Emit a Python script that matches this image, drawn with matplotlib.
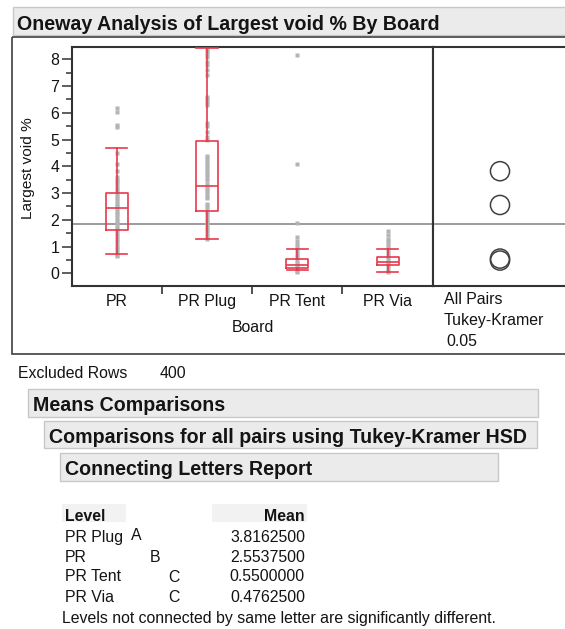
import numpy as np
import matplotlib
matplotlib.use("Agg")
import matplotlib.pyplot as plt
from matplotlib.patches import Rectangle

plt.rcParams["font.family"] = ["Liberation Sans", "DejaVu Sans"]

W, H = 565, 629

# ---------- data ----------
boards = ["PR", "PR Plug", "PR Tent", "PR Via"]
q1 = [1.62, 2.34, 0.20, 0.30]
med = [2.45, 3.26, 0.30, 0.43]
q3 = [2.99, 4.96, 0.52, 0.60]
whis_lo = [0.71, 1.29, 0.12, 0.03]
whis_hi = [4.70, 8.41, 0.91, 0.91]

pts_pr = [6.17, 6.04, 5.54, 5.48, 4.5, 4.08, 3.82, 3.61, 3.5, 3.4, 3.3, 3.2,
          3.1, 3.0, 2.9, 2.8, 2.7, 2.6, 2.5, 2.4, 2.3, 2.2, 2.1, 2.0, 1.9,
          1.8, 1.7, 1.6, 1.5, 1.4, 1.3, 1.2, 1.1, 1.0, 0.9, 0.8, 0.7, 0.65]
pts_plug = [8.4, 8.3, 8.2, 8.1, 7.9, 7.8, 7.6, 7.4, 6.6, 6.5, 6.4, 6.3, 5.6,
            5.5, 5.3, 5.1, 5.0, 4.4, 4.3, 4.2, 4.1, 4.0, 3.9, 3.8, 3.7, 3.6,
            3.5, 3.35, 3.2, 3.1, 3.0, 2.9, 2.8, 2.6, 2.5, 2.4, 2.3, 2.2, 2.1,
            2.0, 1.9, 1.8, 1.7, 1.6, 1.5, 1.4, 1.3]
pts_tent = [8.17, 4.07, 1.87, 1.37, 1.2, 1.1, 1.0, 0.9, 0.8, 0.7, 0.6, 0.5,
            0.4, 0.3, 0.2, 0.1, 0.06]
pts_via = [1.58, 1.43, 1.3, 1.2, 1.1, 1.0, 0.9, 0.8, 0.7, 0.6, 0.5, 0.4, 0.3,
           0.2, 0.1, 0.03]
points = [pts_pr, pts_plug, pts_tent, pts_via]

means = [2.55375, 3.81625, 0.55, 0.47625]
grand_mean = 1.85

tbl_levels = ["PR Plug", "PR", "PR Tent", "PR Via"]
tbl_letters = ["A", "B", "C", "C"]
tbl_means = [3.81625, 2.55375, 0.55, 0.47625]

txt = "#141414"
red = "#e8394d"
fs = 11.4      # regular report text
fsb = 14.1     # bold outline headings


def pos(left, top, right, bottom):
    return [left / W, 1 - bottom / H, (right - left) / W, (bottom - top) / H]


fig = plt.figure(figsize=(W / 100, H / 100), dpi=100)

# overlay in pixel coordinates for the report parts
bg = fig.add_axes([0, 0, 1, 1])
bg.set_xlim(0, W)
bg.set_ylim(H, 0)
bg.axis("off")

bg.add_patch(Rectangle((12.7, 7.3), 600, 27.7, fc="#ebebeb", ec="#c8c8c8", lw=1))
bg.text(17.3, 22, "Oneway Analysis of Largest void % By Board", fontsize=fsb,
        fontweight="bold", va="center_baseline", color=txt)
bg.add_patch(Rectangle((11.7, 36.7), 600, 317.3, fill=False, ec="#404040", lw=1.2))

bg.text(253, 326, "Board", fontsize=fs, ha="center", va="center_baseline", color=txt)
bg.text(444, 297.5, "All Pairs", fontsize=fs, va="center_baseline", color=txt)
bg.text(444, 318.5, "Tukey-Kramer", fontsize=fs, va="center_baseline", color=txt)
bg.text(446, 339.5, "0.05", fontsize=fs, va="center_baseline", color=txt)
bg.text(28, 168, "Largest void %", fontsize=fs - 0.3, rotation=90, ha="center",
        va="center", color=txt)

bg.text(18.3, 372.5, "Excluded Rows", fontsize=fs, va="center_baseline", color=txt)
bg.text(159.3, 372.5, "400", fontsize=fs, va="center_baseline", color=txt)

bars = [("Means Comparisons", 28.3, 389, 538.3, 416.7),
        ("Comparisons for all pairs using Tukey-Kramer HSD", 44.3, 421, 537, 448.3),
        ("Connecting Letters Report", 60, 452.7, 498.3, 480.7)]
for label, l, t, r, b in bars:
    bg.add_patch(Rectangle((l, t), r - l, b - t, fc="#ebebeb", ec="#c8c8c8", lw=1))
    bg.text(l + 5, (t + b) / 2 + 0.5, label, fontsize=fsb, fontweight="bold",
            va="center_baseline", color=txt)

# connecting letters table
bg.add_patch(Rectangle((61.7, 504), 64.3, 18, fc="#f2f2f2", ec="none"))
bg.add_patch(Rectangle((212, 504), 95, 18, fc="#f2f2f2", ec="none"))
bg.text(65, 515, "Level", fontsize=fs, fontweight="bold", va="center_baseline",
        color=txt)
bg.text(305, 515, "Mean", fontsize=fs, fontweight="bold", va="center_baseline",
        ha="right", color=txt)
letter_x = {"A": 136, "B": 155, "C": 174}
letter_dy = {"A": -2, "B": 0, "C": 0.5}
row_y = [536, 555.5, 575, 595.5]
for lev, let, m, y in zip(tbl_levels, tbl_letters, tbl_means, row_y):
    bg.text(65, y, lev, fontsize=fs, va="center_baseline", color=txt)
    bg.text(letter_x[let], y + letter_dy[let], let, fontsize=fs,
            va="center_baseline", ha="center", color=txt)
    bg.text(305, y, f"{m:.7f}", fontsize=fs, va="center_baseline", ha="right",
            color=txt)
bg.text(61.7, 617, "Levels not connected by same letter are significantly different.",
        fontsize=fs, va="center_baseline", color=txt)

# ---------- main one-way plot ----------
ax = fig.add_axes(pos(71.7, 46.7, 432.7, 286))
ylim = (-0.475, 8.47)
stats = []
for i in range(len(boards)):
    stats.append(dict(med=med[i], q1=q1[i], q3=q3[i], whislo=whis_lo[i],
                      whishi=whis_hi[i], fliers=[]))
for i, p in enumerate(points):
    ax.plot(np.full(len(p), i + 0.5), p, "s", ms=2.2, color="#b4b4b4",
            mec="none", zorder=2)
ax.bxp(stats, positions=[i + 0.5 for i in range(len(boards))], widths=0.245,
       capwidths=0.235, showfliers=False,
       boxprops=dict(color=red, lw=1.2), medianprops=dict(color=red, lw=1.2),
       whiskerprops=dict(color=red, lw=1.2), capprops=dict(color=red, lw=1.2),
       zorder=3)
ax.axhline(grand_mean, color="#808080", lw=1.1, zorder=1)
ax.set_xlim(0, len(boards))
ax.set_ylim(*ylim)
ax.set_xticks([i + 0.5 for i in range(len(boards))], boards)
ax.set_xticks([1, 2, 3], minor=True)
ax.tick_params(axis="x", which="major", length=0, pad=6, labelsize=fs,
               labelcolor=txt)
ax.tick_params(axis="x", which="minor", length=6, width=1.2, color="#333333")
ax.set_yticks(range(0, 9))
ax.set_yticks(np.arange(0.5, 8.5, 1.0), minor=True)
ax.tick_params(axis="y", which="major", length=7, width=1.1, color="#333333",
               labelsize=fs, labelcolor=txt, pad=2)
ax.tick_params(axis="y", which="minor", length=4, width=1.1, color="#333333")
for s in ax.spines.values():
    s.set_color("#333333")
    s.set_linewidth(1.5)

# comparison circles panel
ax2 = fig.add_axes(pos(432.7, 46.7, 600, 286))
ax2.set_ylim(*ylim)
ax2.set_xlim(0, 1)
ax2.axhline(grand_mean, color="#808080", lw=1.1, zorder=1)
ax2.scatter(np.full(len(means), (500 - 432.7) / (600 - 432.7)), means, s=190,
            facecolors="none", edgecolors="#404040", linewidths=1.1, zorder=3)
ax2.set_xticks([])
ax2.set_yticks([])
for s in ax2.spines.values():
    s.set_color("#333333")
    s.set_linewidth(1.5)

fig.savefig("out.png", dpi=100)
